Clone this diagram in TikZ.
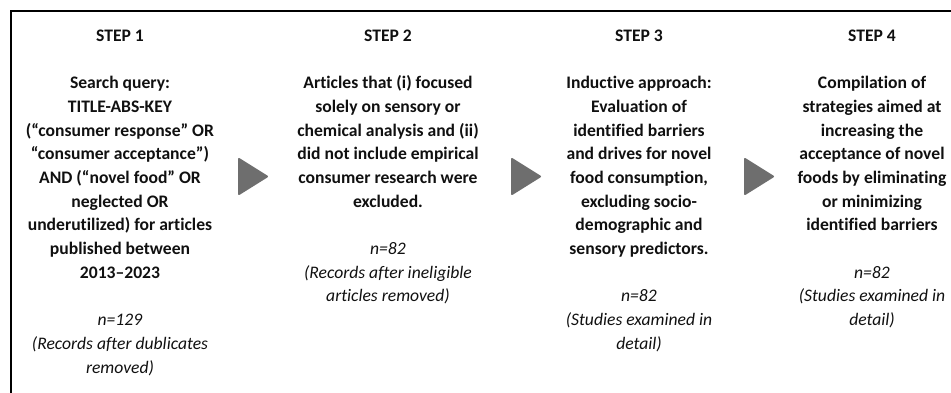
\documentclass[tikz,border=0pt]{standalone}
\usepackage{fontspec}
\setmainfont{Carlito}[Ligatures=NoCommon]
\definecolor{chevgray}{HTML}{6E6E6E}
\definecolor{ink}{HTML}{101010}
\begin{document}
\begin{tikzpicture}[x=1pt,y=-1pt,
  stepcol/.style={anchor=north, align=center, inner sep=0pt, text=ink,
    font=\fontsize{17.6}{23.7}\selectfont},
  chev/.style={fill=chevgray, draw=chevgray, line width=2pt, line join=round}]
  \useasboundingbox (0,0) rectangle (951,392);
  % outer frame, only its top and left edges fall inside the page
  \begin{scope}
    \clip (0,0) rectangle (951,392);
    \draw[line width=1.8pt, black] (11,11) rectangle (980,420);
  \end{scope}

  \node[stepcol] (s1) at (120,29.5) {\textbf{STEP 1}\\[23.7pt]
    \textbf{Search query:}\\
    \textbf{TITLE-ABS-KEY}\\
    \textbf{(“consumer response” OR}\\
    \textbf{“consumer acceptance”)}\\
    \textbf{AND (“novel food” OR}\\
    \textbf{neglected OR}\\
    \textbf{underutilized) for articles}\\
    \textbf{published between}\\
    \textbf{2013–2023}\\[23.7pt]
    \textit{n=129}\\
    \textit{(Records after dublicates}\\
    \textit{removed)}};

  \node[stepcol] (s2) at (388,29.5) {\textbf{STEP 2}\\[23.7pt]
    \textbf{Articles that (i) focused}\\
    \textbf{solely on sensory or}\\
    \textbf{chemical analysis and (ii)}\\
    \textbf{did not include empirical}\\
    \textbf{consumer research were}\\
    \textbf{excluded.}\\[23.7pt]
    \textit{n=82}\\
    \textit{(Records after ineligible}\\
    \textit{articles removed)}};

  \node[stepcol] (s3) at (639,29.5) {\textbf{STEP 3}\\[23.7pt]
    \textbf{Inductive approach:}\\
    \textbf{Evaluation of}\\
    \textbf{identified barriers}\\
    \textbf{and drives for novel}\\
    \textbf{food consumption,}\\
    \textbf{excluding socio-}\\
    \textbf{demographic and}\\
    \textbf{sensory predictors.}\\[23.7pt]
    \textit{n=82}\\
    \textit{(Studies examined in}\\
    \textit{detail)}};

  \node[stepcol] (s4) at (872,29.5) {\textbf{STEP 4}\\[23.7pt]
    \textbf{Compilation of}\\
    \textbf{strategies aimed at}\\
    \textbf{increasing the}\\
    \textbf{acceptance of novel}\\
    \textbf{foods by eliminating}\\
    \textbf{or minimizing}\\
    \textbf{identified barriers}\\[23.7pt]
    \textit{n=82}\\
    \textit{(Studies examined in}\\
    \textit{detail)}};

  % chevrons between the steps
  \draw[chev] (239,159) -- (267,176.5) -- (239,194) -- cycle;
  \draw[chev] (512,159) -- (540,176.5) -- (512,194) -- cycle;
  \draw[chev] (745,159) -- (773,176.5) -- (745,194) -- cycle;
\end{tikzpicture}
\end{document}
